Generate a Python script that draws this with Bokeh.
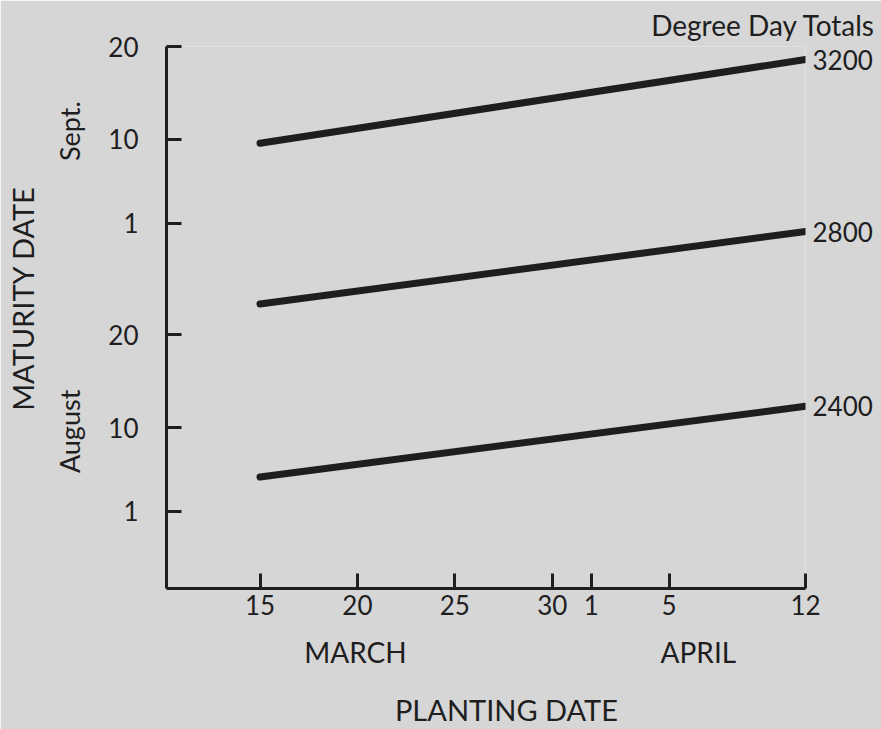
from bokeh.plotting import figure
from bokeh.models import Range1d, FixedTicker, LinearAxis, Title
from bokeh.embed import file_html
from bokeh.resources import INLINE

# Planting dates as days since end of February (Mar 15 = 15, Apr 1 = 32)
planting = [15, 43]
# Maturity dates as day counts from July 31 (Aug 1 = 1, Sept 1 = 32)
dd_2400 = [4.7, 12.3]
dd_2800 = [23.3, 31.1]
dd_3200 = [40.6, 49.6]
series_names = ["2400", "2800", "3200"]
series_vals = [dd_2400, dd_2800, dd_3200]

x_ticks = [15, 20, 25, 30, 32, 36, 43]
x_tick_labels = ["15", "20", "25", "30", "1", "5", "12"]
y_ticks = [1, 10, 20, 32, 41, 51]
y_tick_labels = ["1", "10", "20", "1", "10", "20"]
month_x_pos = [19.9, 37.5]
month_x_names = ["MARCH", "APRIL"]
month_y_pos = [9.6, 41.9]
month_y_names = ["August", "Sept."]
x_title_pos = [27.65]
x_title = ["PLANTING DATE"]
y_title_pos = [23.9]
y_title = ["MATURITY DATE"]

FONT = "Lato"
INK = "#1e1e1e"
BG = "#d6d6d6"

p = figure(frame_width=639, frame_height=542, output_backend="svg",
           toolbar_location=None,
           x_range=Range1d(10.2, 43), y_range=Range1d(-7.3, 51),
           min_border_left=166, min_border_right=76, min_border_top=45,
           min_border_bottom=142)
p.background_fill_color = BG
p.border_fill_color = BG
p.outline_line_color = None
p.grid.visible = False


def style_axis(ax, ticks, labels, size, show_line=True):
    ax.ticker = FixedTicker(ticks=ticks)
    ax.major_label_overrides = {t: l for t, l in zip(ticks, labels)}
    ax.minor_tick_line_color = None
    ax.major_label_text_font = FONT
    ax.major_label_text_font_size = size
    ax.major_label_text_color = INK
    if show_line:
        ax.major_tick_in = 15
        ax.major_tick_out = 0
        ax.major_tick_line_width = 3
        ax.major_tick_line_color = INK
        ax.axis_line_width = 3
        ax.axis_line_color = INK
    else:
        ax.major_tick_line_color = None
        ax.axis_line_color = None


style_axis(p.xaxis[0], x_ticks, x_tick_labels, "26px")
style_axis(p.yaxis[0], y_ticks, y_tick_labels, "26px")
p.xaxis[0].major_label_standoff = 6
p.yaxis[0].major_label_standoff = 28

for vals in series_vals:
    p.line(planting, vals, line_width=7, line_color=INK, line_cap="round")

# series names on the right
ax_r = LinearAxis()
style_axis(ax_r, [v[-1] for v in series_vals], series_names, "26px", show_line=False)
ax_r.major_label_standoff = 1
p.add_layout(ax_r, "right")

# month names on the left (vertical)
ax_l = LinearAxis()
style_axis(ax_l, month_y_pos, month_y_names, "27px", show_line=False)
ax_l.major_label_orientation = "vertical"
ax_l.major_label_standoff = 13
p.add_layout(ax_l, "left")

# y title
ax_l2 = LinearAxis()
style_axis(ax_l2, y_title_pos, y_title, "29px", show_line=False)
ax_l2.major_label_orientation = "vertical"
ax_l2.major_label_standoff = 4
p.add_layout(ax_l2, "left")

# month names below
ax_b = LinearAxis()
style_axis(ax_b, month_x_pos, month_x_names, "28px", show_line=False)
ax_b.major_label_standoff = 11
p.add_layout(ax_b, "below")

# x title
ax_b2 = LinearAxis()
style_axis(ax_b2, x_title_pos, x_title, "29px", show_line=False)
ax_b2.major_label_standoff = 14
p.add_layout(ax_b2, "below")

p.title = Title(text="Degree Day Totals", align="right", offset=-70,
                text_font=FONT, text_font_size="28px", text_font_style="normal",
                text_color=INK, standoff=10)

open("out.html", "w").write(file_html(p, INLINE))
